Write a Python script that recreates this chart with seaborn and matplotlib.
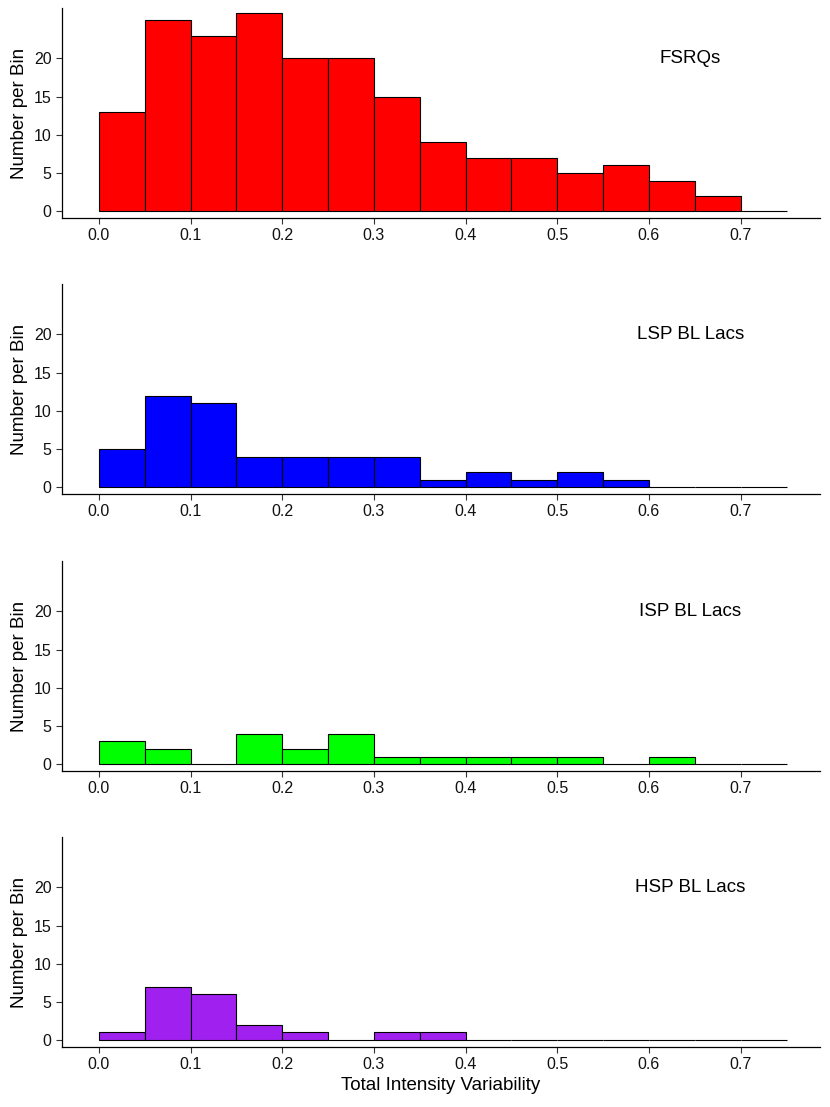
import numpy as np
import pandas as pd
import matplotlib
matplotlib.use("Agg")
import matplotlib.pyplot as plt
import seaborn as sns

# bin edges (width 0.05) and counts
bin_width = 0.05
bin_range = (0, 0.75)
bin_centers = np.arange(0.025, 0.75, 0.05)

fsrq_counts = [13, 25, 23, 26, 20, 20, 15, 9, 7, 7, 5, 6, 4, 2, 0]
lsp_counts = [5, 12, 11, 4, 4, 4, 4, 1, 2, 1, 2, 1, 0, 0, 0]
isp_counts = [3, 2, 0, 4, 2, 4, 1, 1, 1, 1, 1, 0, 1, 0, 0]
hsp_counts = [1, 7, 6, 2, 1, 0, 1, 1, 0, 0, 0, 0, 0, 0, 0]

groups = ["FSRQs", "LSP BL Lacs", "ISP BL Lacs", "HSP BL Lacs"]
colors = ["#FF0000", "#0000FF", "#00FF00", "#A020F0"]
all_counts = [fsrq_counts, lsp_counts, isp_counts, hsp_counts]

sns.set_theme(style="ticks")
plt.rcParams["font.family"] = ["Liberation Sans", "DejaVu Sans"]

fig = plt.figure(figsize=(8.3, 11.07), dpi=100)

left, width, height = 0.0747, 0.913, 0.1897
bottoms = [0.803, 0.5537, 0.3035, 0.0542]

for i, (name, col, counts) in enumerate(zip(groups, colors, all_counts)):
    ax = fig.add_axes([left, bottoms[i], width, height])
    df = pd.DataFrame({"x": bin_centers, "n": counts})
    sns.histplot(data=df, x="x", weights="n", binwidth=bin_width,
                 binrange=bin_range, color=col, alpha=1,
                 edgecolor="black", linewidth=0.8, ax=ax)
    ax.set_xlim(-0.0403, 0.7863)
    ax.set_ylim(-0.9, 26.6)
    ax.set_xticks([0, 0.1, 0.2, 0.3, 0.4, 0.5, 0.6, 0.7])
    ax.set_xticklabels(["0.0", "0.1", "0.2", "0.3", "0.4", "0.5", "0.6", "0.7"])
    ax.set_yticks([0, 5, 10, 15, 20])
    ax.tick_params(axis="both", labelsize=11.5, colors="#333333", length=4,
                   width=0.8, labelcolor="#111111")
    for side in ["top", "right"]:
        ax.spines[side].set_visible(False)
    for side in ["left", "bottom"]:
        ax.spines[side].set_color("black")
        ax.spines[side].set_linewidth(0.9)
    ax.set_ylabel("Number per Bin", fontsize=13.5, color="black", labelpad=4)
    if i == 3:
        ax.set_xlabel("Total Intensity Variability", fontsize=13.5,
                      color="black", labelpad=3)
    else:
        ax.set_xlabel("")
    ax.text(0.645, 20, name, ha="center", va="center", fontsize=13.5,
            color="black")

fig.savefig("out.png", dpi=100)
